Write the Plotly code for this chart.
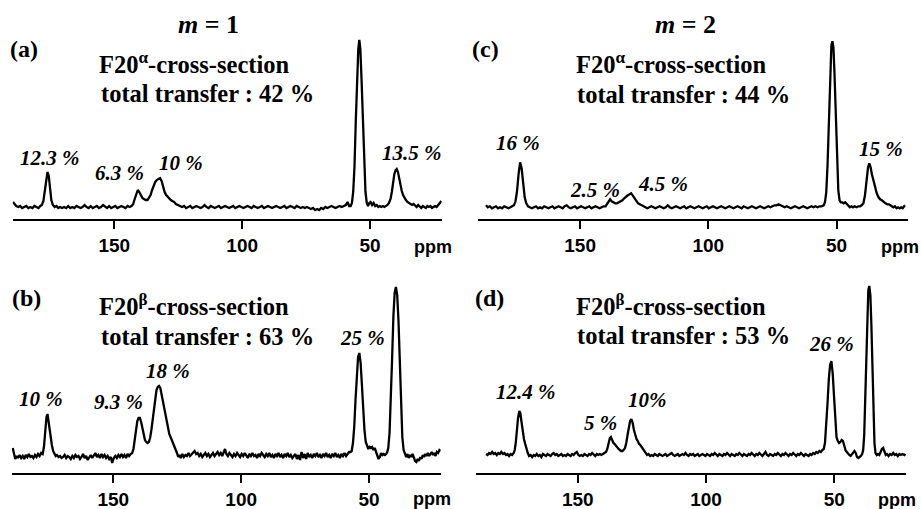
import plotly.graph_objects as go

W, H = 921, 509

# ---------------- data: (ppm, intensity) ----------------
SPEC_A = [
    (189.6, 5), (189.0, 3), (188.3, 1), (187.5, 0), (186.8, 1), (186.0, -1), (185.2, 0), (184.4, 1),
    (183.6, -1), (182.8, 0), (182.0, -1), (181.2, 1), (180.4, 0), (179.6, -1), (178.9, 1), (178.3, 2),
    (177.7, 6), (177.1, 16), (176.6, 29), (176.1, 35), (175.6, 31), (175.1, 18), (174.6, 7), (174.0, 2),
    (173.3, 0), (172.6, 1), (171.9, -1), (171.2, 0), (170.4, -1), (169.6, 0), (168.8, -1), (168.0, 1),
    (167.2, -1), (166.4, 0), (165.6, -1), (164.8, 1), (164.0, 0), (163.2, -1), (162.4, 0), (161.6, 2),
    (160.8, 0), (160.0, -1), (159.2, 1), (158.4, -1), (157.6, 0), (156.8, 1), (156.0, -1), (155.2, 0),
    (154.4, 2), (153.6, 0), (152.8, -1), (152.0, 1), (151.2, -1), (150.4, 0), (149.6, 1), (148.8, -1),
    (148.0, 0), (147.2, 1), (146.4, 0), (145.6, -1), (144.8, 1), (144.0, 0), (143.2, 1), (142.6, 3),
    (142.0, 8), (141.4, 13), (140.8, 17), (140.2, 15), (139.6, 11), (139.0, 9), (138.4, 8), (137.7, 7),
    (137.0, 7), (136.4, 9), (135.8, 12), (135.2, 17), (134.6, 22), (134.0, 25), (133.4, 27), (132.7, 28),
    (132.1, 29), (131.5, 26), (130.9, 20), (130.3, 15), (129.7, 12), (129.1, 10), (128.5, 8), (127.9, 7),
    (127.3, 6), (126.6, 5), (125.9, 3), (125.1, 2), (124.3, 1), (123.5, 0), (122.7, 1), (121.9, -1),
    (121.1, 0), (120.3, 1), (119.5, -1), (118.7, 0), (117.9, 1), (117.1, 0), (116.3, -1), (115.5, 0),
    (114.7, 2), (113.9, 0), (113.1, -1), (112.3, 1), (111.5, 0), (110.7, -1), (109.9, 0), (109.1, 1),
    (108.3, -1), (107.5, 0), (106.7, 1), (105.9, 0), (105.1, -1), (104.3, 0), (103.5, 1), (102.7, -1),
    (101.9, 0), (101.1, 1), (100.3, 0), (99.5, -1), (98.7, 0), (97.9, 1), (97.1, 0), (96.3, -1),
    (95.5, 1), (94.7, 0), (93.9, -1), (93.1, 0), (92.3, 1), (91.5, -1), (90.7, 0), (89.9, 1),
    (89.1, 0), (88.3, -1), (87.5, 0), (86.7, 1), (85.9, 0), (85.1, -1), (84.3, 0), (83.5, 1),
    (82.7, -1), (81.9, 0), (81.1, 1), (80.3, 0), (79.5, -1), (78.7, 1), (77.9, 0), (77.1, -1),
    (76.3, 0), (75.5, -1), (74.7, 0), (73.9, -1), (73.1, -2), (72.3, -1), (71.5, -3), (70.7, -2),
    (69.9, -3), (69.1, -1), (68.3, -2), (67.5, 0), (66.7, -1), (65.9, 0), (65.1, 1), (64.3, 0),
    (63.5, -1), (62.7, 0), (61.9, 1), (61.1, 0), (60.3, 1), (59.5, 2), (58.8, 5), (58.2, 1),
    (57.6, 1), (57.1, 4), (56.6, 15), (56.1, 40), (55.6, 85), (55.1, 130), (54.6, 158), (54.2, 167),
    (53.8, 158), (53.3, 125), (52.8, 80), (52.3, 40), (51.8, 15), (51.3, 4), (50.8, 1), (50.3, 4),
    (49.8, 5), (49.2, 2), (48.6, 4), (48.0, 1), (47.4, 2), (46.8, 0), (46.2, 1), (45.6, 0),
    (45.0, 1), (44.4, 0), (43.8, 1), (43.2, 2), (42.6, 4), (42.0, 8), (41.5, 15), (41.0, 25),
    (40.5, 33), (40.0, 37), (39.6, 38), (39.1, 35), (38.6, 28), (38.1, 21), (37.6, 16), (37.1, 12),
    (36.6, 9), (36.0, 7), (35.4, 5), (34.8, 4), (34.2, 3), (33.6, 2), (33.0, 3), (32.4, 1),
    (31.8, 0), (31.2, 2), (30.6, 0), (30.0, -1), (29.4, 1), (28.8, 0), (28.2, -1), (27.6, 1),
    (27.0, 0), (26.4, 1), (25.8, -1), (25.2, 0), (24.6, 1), (24.0, 0), (23.4, 2), (22.8, 3), (22.1, 6),
]

SPEC_C = [
    (186.7, 2), (186.0, 0), (185.2, 1), (184.4, -1), (183.6, 0), (182.8, 1), (182.0, -1), (181.2, 0),
    (180.4, -1), (179.6, 1), (178.8, 0), (178.0, -1), (177.2, 0), (176.4, 1), (175.8, 2), (175.2, 6),
    (174.6, 16), (174.0, 33), (173.4, 45), (172.8, 39), (172.2, 23), (171.6, 10), (171.0, 4), (170.3, 1),
    (169.6, 0), (168.8, -1), (168.0, 0), (167.2, 1), (166.4, -1), (165.6, 0), (164.8, -1), (164.0, 1),
    (163.2, 0), (162.4, -1), (161.6, 0), (160.8, 1), (160.0, -1), (159.2, 0), (158.4, 1), (157.6, 0),
    (156.8, -1), (156.0, 1), (155.2, 2), (154.4, 0), (153.6, -1), (152.8, 0), (152.0, 1), (151.2, -1),
    (150.4, 0), (149.6, 1), (148.8, 0), (148.0, -1), (147.2, 0), (146.4, 1), (145.6, -1), (144.8, 0),
    (144.0, 1), (143.2, 0), (142.4, -1), (141.6, 0), (140.8, 1), (140.1, 1), (139.5, 3), (138.9, 6),
    (138.3, 8), (137.7, 6), (137.0, 5), (136.3, 4), (135.6, 4), (134.9, 5), (134.2, 6), (133.5, 7),
    (132.8, 9), (132.1, 11), (131.4, 12), (130.7, 13), (130.1, 14), (129.5, 12), (128.8, 9), (128.1, 6),
    (127.4, 4), (126.7, 3), (126.0, 2), (125.3, 1), (124.6, 0), (123.8, -1), (123.0, 0), (122.2, 1),
    (121.4, 0), (120.6, -1), (119.8, 0), (119.0, 1), (118.2, 0), (117.4, -1), (116.6, 0), (115.8, 2),
    (115.0, 0), (114.2, -1), (113.4, 0), (112.6, 1), (111.8, 0), (111.0, -1), (110.2, 0), (109.4, 1),
    (108.6, -1), (107.8, 0), (107.0, 1), (106.2, 0), (105.4, -1), (104.6, 0), (103.8, 1), (103.0, 0),
    (102.2, -1), (101.4, 0), (100.6, 1), (99.8, -1), (99.0, 0), (98.2, 1), (97.4, 0), (96.6, -1),
    (95.8, 0), (95.0, 1), (94.2, 0), (93.4, -1), (92.6, 0), (91.8, 1), (91.0, 0), (90.2, -1),
    (89.4, 0), (88.6, 1), (87.8, 0), (87.0, -1), (86.2, 1), (85.4, 0), (84.6, -1), (83.8, 0),
    (83.0, 1), (82.2, 0), (81.4, -1), (80.6, 0), (79.8, 1), (79.0, 0), (78.2, -1), (77.4, 0),
    (76.6, 1), (75.8, 0), (75.0, 1), (74.2, 2), (73.4, 2), (72.6, 3), (71.8, 2), (71.0, 1),
    (70.2, 0), (69.4, 1), (68.6, 0), (67.8, -1), (67.0, 0), (66.2, 1), (65.4, 0), (64.6, -1),
    (63.8, 0), (63.0, 1), (62.2, 0), (61.4, -1), (60.6, 0), (59.8, 1), (59.0, 0), (58.2, 1),
    (57.4, 0), (56.6, 1), (55.8, 1), (55.0, 2), (54.5, 5), (54.0, 15), (53.5, 42), (53.0, 90),
    (52.5, 138), (52.0, 162), (51.6, 166), (51.2, 160), (50.8, 135), (50.3, 90), (49.8, 45), (49.3, 17),
    (48.8, 7), (48.3, 5), (47.8, 5), (47.2, 4), (46.6, 5), (46.0, 3), (45.4, 1), (44.8, 0),
    (44.2, 1), (43.6, 0), (42.9, 1), (42.2, 0), (41.5, 1), (40.8, 1), (40.2, 2), (39.5, 4),
    (38.9, 12), (38.3, 28), (37.7, 40), (37.2, 44), (36.7, 40), (36.2, 33), (35.6, 27), (35.0, 20),
    (34.3, 14), (33.6, 10), (33.0, 8), (32.3, 7), (31.6, 5), (30.9, 4), (30.2, 3), (29.6, 3),
    (29.0, 2), (28.4, 1), (27.8, 0), (27.2, 1), (26.6, -1), (26.0, 0), (25.4, -1), (24.8, 0),
    (24.2, -1), (23.6, 1), (23.3, 2),
]

SPEC_B = [
    (189.3, 7), (188.8, 1), (188.3, -4), (187.7, -1), (187.2, -3), (186.6, 0), (186.0, -3), (185.4, -1),
    (184.8, -4), (184.2, 0), (183.6, -2), (183.0, 1), (182.4, -2), (181.8, -1), (181.2, -3), (180.6, 0),
    (180.0, -2), (179.4, 1), (178.8, -1), (178.2, 2), (177.6, 1), (177.1, 8), (176.6, 25), (176.1, 38),
    (175.7, 41), (175.3, 33), (174.9, 24), (174.5, 18), (174.0, 10), (173.5, 4), (173.0, 1), (172.5, -1),
    (172.0, 0), (171.4, -2), (170.8, -1), (170.2, -3), (169.6, -2), (169.0, 0), (168.4, -3), (167.8, -1),
    (167.2, -2), (166.6, -4), (166.0, -1), (165.4, -3), (164.8, 0), (164.2, -2), (163.6, -1), (163.0, -4),
    (162.4, -2), (161.8, 1), (161.2, -3), (160.6, -1), (160.0, -5), (159.4, -2), (158.8, 0), (158.2, -3),
    (157.6, -1), (157.0, 2), (156.4, -2), (155.8, 0), (155.2, -3), (154.6, 1), (154.0, -2), (153.4, 0),
    (152.8, -3), (152.2, -1), (151.6, -4), (151.0, -2), (150.4, -8), (149.8, -3), (149.2, -1), (148.6, -3),
    (148.0, 0), (147.4, -2), (146.8, 1), (146.2, -2), (145.6, 0), (145.0, -3), (144.4, 1), (143.8, -1),
    (143.2, 1), (142.6, 2), (142.1, 6), (141.6, 15), (141.1, 27), (140.6, 34), (140.1, 37), (139.6, 37),
    (139.1, 33), (138.6, 26), (138.1, 19), (137.6, 15), (137.1, 13), (136.6, 12), (136.1, 13), (135.6, 17),
    (135.1, 25), (134.6, 36), (134.1, 48), (133.6, 58), (133.1, 65), (132.6, 68), (132.1, 69), (131.6, 67),
    (131.1, 60), (130.6, 52), (130.1, 45), (129.6, 40), (129.1, 33), (128.6, 26), (128.1, 21), (127.6, 18),
    (127.1, 15), (126.6, 12), (126.1, 9), (125.6, 5), (125.1, 2), (124.6, -2), (124.1, 0), (123.6, -3),
    (123.0, 1), (122.4, -2), (121.8, 0), (121.2, -1), (120.6, 2), (120.0, -1), (119.4, 1), (118.8, 3),
    (118.2, 4), (117.6, 1), (117.0, 2), (116.4, -1), (115.8, 1), (115.2, -2), (114.6, 0), (114.0, 2),
    (113.4, -1), (112.8, 1), (112.2, -2), (111.6, 0), (111.0, 2), (110.4, -1), (109.8, 1), (109.2, 3),
    (108.6, 0), (108.0, 2), (107.4, -1), (106.8, 2), (106.3, 6), (105.8, 1), (105.2, -1), (104.6, 2),
    (104.0, 0), (103.4, -2), (102.8, 1), (102.2, -1), (101.6, 2), (101.0, 0), (100.4, -2), (99.8, 1),
    (99.2, -1), (98.6, 2), (98.0, 0), (97.4, -3), (96.8, 1), (96.2, -1), (95.6, 2), (95.0, -1),
    (94.4, 0), (93.8, -3), (93.2, 1), (92.6, -1), (92.0, 2), (91.4, 0), (90.8, -2), (90.2, 1),
    (89.6, -1), (89.0, 2), (88.4, -2), (87.8, 0), (87.2, -3), (86.6, 1), (86.0, -1), (85.4, 2),
    (84.8, -2), (84.2, 0), (83.6, -3), (83.0, 1), (82.4, -1), (81.8, 2), (81.2, -2), (80.6, 0),
    (80.0, -3), (79.4, -1), (78.8, 1), (78.2, -4), (77.6, 0), (77.0, -5), (76.4, 3), (75.8, -3),
    (75.2, 1), (74.6, -4), (74.0, 2), (73.4, -2), (72.8, 0), (72.2, -3), (71.6, 1), (71.0, -1),
    (70.4, 2), (69.8, -2), (69.2, 0), (68.6, -3), (68.0, 1), (67.4, -1), (66.8, 2), (66.2, -2),
    (65.6, 0), (65.0, -3), (64.4, 1), (63.8, -1), (63.2, 2), (62.6, -2), (62.0, 0), (61.4, -3),
    (60.8, 1), (60.2, -1), (59.6, 2), (59.0, -1), (58.4, 1), (57.8, 3), (57.3, 3), (56.8, 4),
    (56.3, 12), (55.8, 28), (55.3, 55), (54.8, 82), (54.3, 98), (53.8, 102), (53.3, 92), (52.8, 70),
    (52.3, 45), (51.8, 25), (51.3, 13), (50.8, 8), (50.3, 6), (49.8, 8), (49.3, 7), (48.8, 8),
    (48.3, 5), (47.8, 7), (47.3, 3), (46.8, -1), (46.3, -4), (45.8, -2), (45.3, 2), (44.8, 0),
    (44.3, 1), (43.8, 0), (43.3, 1), (42.9, 3), (42.5, 7), (42.0, 22), (41.5, 52), (41.0, 96),
    (40.5, 138), (40.0, 162), (39.5, 168), (39.0, 160), (38.5, 134), (38.0, 94), (37.5, 50), (37.0, 18),
    (36.5, 5), (36.0, 0), (35.5, -2), (35.0, 1), (34.5, -3), (34.0, 0), (33.5, -2), (33.0, 1),
    (32.5, -4), (32.0, -6), (31.5, -7), (31.0, -4), (30.5, -6), (30.0, -2), (29.5, -4), (29.0, 0),
    (28.5, -2), (28.0, 1), (27.5, -1), (27.0, 2), (26.5, -1), (26.0, 1), (25.5, 3), (25.0, 0),
    (24.5, 2), (24.0, -1), (23.5, 3), (23.0, 2), (22.5, 5), (22.0, 4),
]

SPEC_D = [
    (185.8, 1), (185.2, 0), (184.6, 2), (184.0, 1), (183.4, 3), (182.8, 1), (182.2, 2), (181.6, 0),
    (181.0, 2), (180.4, 1), (179.8, 3), (179.2, 1), (178.6, 2), (178.0, 0), (177.4, 1), (176.8, -1),
    (176.2, 1), (175.6, 0), (175.0, 2), (174.6, 5), (174.2, 12), (173.8, 24), (173.3, 37), (172.8, 44),
    (172.4, 42), (172.0, 34), (171.5, 24), (171.0, 16), (170.5, 11), (170.0, 6), (169.5, 2), (169.0, -1),
    (168.4, 0), (167.8, -2), (167.2, 0), (166.6, -1), (166.0, 1), (165.4, -1), (164.8, 0), (164.2, -2),
    (163.6, 1), (163.0, 0), (162.4, -1), (161.8, 1), (161.2, 0), (160.6, -1), (160.0, 1), (159.4, 2),
    (158.8, 0), (158.2, 1), (157.6, -1), (157.0, 0), (156.4, 1), (155.8, -1), (155.2, 0), (154.6, -1),
    (154.0, 1), (153.4, 0), (152.8, -1), (152.2, 1), (151.6, 0), (151.0, 2), (150.4, 3), (149.8, 0),
    (149.2, -1), (148.6, 0), (148.0, -1), (147.4, 1), (146.8, 0), (146.2, -1), (145.6, 1), (145.0, 0),
    (144.4, 2), (143.8, 0), (143.2, -1), (142.6, 1), (142.0, 0), (141.4, 1), (140.8, 0), (140.2, 1),
    (139.6, 2), (139.0, 3), (138.5, 6), (138.0, 12), (137.5, 17), (137.1, 18), (136.6, 15), (136.1, 12),
    (135.6, 11), (135.1, 9), (134.6, 7), (134.1, 6), (133.6, 5), (133.1, 4), (132.6, 4), (132.1, 5),
    (131.6, 7), (131.1, 12), (130.6, 20), (130.1, 28), (129.6, 34), (129.1, 36), (128.6, 32), (128.1, 25),
    (127.6, 19), (127.1, 16), (126.6, 14), (126.1, 11), (125.6, 10), (125.1, 8), (124.6, 6), (124.1, 4),
    (123.6, 2), (123.0, 0), (122.4, 1), (121.8, -1), (121.2, 0), (120.6, -1), (120.0, 1), (119.4, 0),
    (118.8, -1), (118.2, 1), (117.6, 0), (117.0, -1), (116.4, 0), (115.8, 1), (115.2, -1), (114.6, 0),
    (114.0, 1), (113.4, 2), (112.8, 0), (112.2, -1), (111.6, 0), (111.0, 1), (110.4, -1), (109.8, 0),
    (109.2, 1), (108.6, 0), (108.0, 2), (107.4, 0), (106.8, -1), (106.2, 1), (105.6, 0), (105.0, 1),
    (104.4, -1), (103.8, 0), (103.2, 1), (102.6, -1), (102.0, 0), (101.4, 1), (100.8, 0), (100.2, -1),
    (99.6, 1), (99.0, 0), (98.4, -1), (97.8, 1), (97.2, 0), (96.6, 2), (96.0, 0), (95.4, -1),
    (94.8, 1), (94.2, 0), (93.6, -1), (93.0, 1), (92.4, 0), (91.8, 2), (91.2, 0), (90.6, -1),
    (90.0, 1), (89.4, 0), (88.8, -1), (88.2, 1), (87.6, 0), (87.0, 2), (86.4, 0), (85.8, -1),
    (85.2, 1), (84.6, 0), (84.0, -1), (83.4, 1), (82.8, 0), (82.2, 2), (81.6, 0), (81.0, -1),
    (80.4, 1), (79.8, 0), (79.2, 2), (78.6, 0), (78.0, -1), (77.4, 1), (76.8, 3), (76.2, 0),
    (75.6, -1), (75.0, 1), (74.4, 0), (73.8, -1), (73.2, 1), (72.6, 0), (72.0, 2), (71.4, 0),
    (70.8, -1), (70.2, 1), (69.6, 0), (69.0, 2), (68.4, 0), (67.8, -1), (67.2, 1), (66.6, 0),
    (66.0, 2), (65.4, 0), (64.8, -1), (64.2, 1), (63.6, 0), (63.0, 2), (62.4, 0), (61.8, -1),
    (61.2, 1), (60.6, 0), (60.0, -1), (59.4, 1), (58.8, 0), (58.2, 2), (57.6, 1), (57.0, 3),
    (56.4, 2), (55.8, 4), (55.2, 3), (54.6, 5), (54.1, 6), (53.6, 12), (53.1, 28), (52.6, 52),
    (52.1, 76), (51.6, 90), (51.1, 94), (50.6, 82), (50.1, 60), (49.6, 35), (49.1, 18), (48.6, 14),
    (48.1, 12), (47.6, 13), (47.1, 15), (46.6, 14), (46.1, 9), (45.6, 5), (45.1, 3), (44.6, 1),
    (44.1, 0), (43.6, -1), (43.1, 1), (42.6, 3), (42.1, 4), (41.6, 2), (41.1, -2), (40.6, -3),
    (40.1, -2), (39.6, -1), (39.1, 1), (38.7, 5), (38.3, 20), (37.9, 55), (37.5, 100), (37.1, 145),
    (36.7, 165), (36.3, 169), (35.9, 160), (35.5, 130), (35.1, 85), (34.7, 40), (34.3, 12), (33.9, 2),
    (33.4, 0), (32.9, 1), (32.4, 0), (31.9, 3), (31.4, 6), (30.9, 7), (30.4, 3), (29.9, 0),
    (29.4, 1), (28.8, -1), (28.2, 1), (27.6, 0), (27.0, 2), (26.4, 0), (25.8, 1), (25.2, -1),
    (24.6, 1), (24.0, 0), (23.4, 1), (22.6, 0), (22.2, 1),
]

TICK_VALS = [150, 100, 50]
TICK_TEXT = ["150", "100", "50"]
X_LIMITS = [189.7, 22.0]

HEADERS = ["<i>m</i> = 1", "<i>m</i> = 2"]
PANEL_LETTERS = ["(a)", "(c)", "(b)", "(d)"]
SECTION_TITLES = ["F20<sup>α</sup>-cross-section", "F20<sup>α</sup>-cross-section",
                  "F20<sup>β</sup>-cross-section", "F20<sup>β</sup>-cross-section"]
TRANSFER_TEXT = ["total transfer : 42 %", "total transfer : 44 %",
                 "total transfer : 63 %", "total transfer : 53 %"]
PEAK_LABELS = [
    ["12.3 %", "6.3 %", "10 %", "13.5 %"],
    ["16 %", "2.5 %", "4.5 %", "15 %"],
    ["10 %", "9.3 %", "18 %", "25 %"],
    ["12.4 %", "5 %", "10%", "26 %"],
]
SPECTRA = [SPEC_A, SPEC_C, SPEC_B, SPEC_D]

# ---------------- layout (pixel geometry) ----------------
GEOM = [
    dict(x0=12.7, x1=441.7, axis=219.3, top=30, base=207.0),
    dict(x0=478.3, x1=908.3, axis=219.3, top=30, base=207.3),
    dict(x0=11.7, x1=440.7, axis=473.3, top=285, base=455.0),
    dict(x0=476.0, x1=906.0, axis=473.3, top=285, base=455.0),
]
HEADER_POS = [(208, 25), (685, 25)]
LETTER_POS = [(24, 49), (485, 49), (26, 298), (489, 298)]
SECTION_POS = [(97, 63), (574, 63), (97, 305), (574, 305)]
TRANSFER_POS = [(99, 94), (575, 95), (99, 336), (575, 335)]
PEAK_POS = [
    [(50, 158), (119, 173), (181, 163), (412, 153)],
    [(518, 143), (595, 190), (663, 184), (881, 149)],
    [(41, 399), (118, 402), (168, 371), (362, 338)],
    [(526, 392), (600, 423), (647, 400), (831, 344)],
]
PPM_POS = [(433, 247), (900, 247), (432, 499), (897, 500)]

SERIF = "Liberation Serif"
SANS = "Liberation Sans"


def px(x, y):
    return x / W, 1 - y / H


fig = go.Figure()
layout = dict(
    width=W, height=H, margin=dict(l=0, r=0, t=0, b=0),
    paper_bgcolor="white", plot_bgcolor="white", showlegend=False,
)
annotations = []


def add_text(text, pos, size, anchor="center", italic=False, family=SERIF):
    x, y = px(*pos)
    if italic:
        text = "<i>" + text + "</i>"
    annotations.append(dict(
        text="<b>" + text + "</b>", x=x, y=y, xref="paper", yref="paper", showarrow=False,
        xanchor=anchor, yanchor="middle",
        font=dict(family=family, size=size, color="black"),
    ))


for i, (spec, g) in enumerate(zip(SPECTRA, GEOM)):
    n = "" if i == 0 else str(i + 1)
    xs = [p[0] for p in spec]
    ys = [p[1] for p in spec]
    fig.add_trace(go.Scatter(
        x=xs, y=ys, mode="lines", xaxis="x" + n, yaxis="y" + n,
        line=dict(color="black", width=2.3), hoverinfo="skip",
    ))
    ybot = -(g["axis"] - g["base"])
    ytop = g["base"] - g["top"]
    layout["xaxis" + n] = dict(
        domain=[g["x0"] / W, g["x1"] / W], range=X_LIMITS, anchor="y" + n,
        showline=True, linewidth=2, linecolor="black", showgrid=False, zeroline=False,
        ticks="outside", ticklen=8, tickwidth=2, tickcolor="black",
        tickvals=TICK_VALS, ticktext=["<b>" + t + "</b>" for t in TICK_TEXT],
        tickfont=dict(family=SANS, size=19, color="black"),
    )
    layout["yaxis" + n] = dict(
        domain=[1 - g["axis"] / H, 1 - g["top"] / H], range=[ybot, ytop], anchor="x" + n,
        visible=False, showgrid=False, zeroline=False,
    )

    add_text(PANEL_LETTERS[i], LETTER_POS[i], 24)
    add_text(SECTION_TITLES[i], SECTION_POS[i], 24.5, anchor="left")
    add_text(TRANSFER_TEXT[i], TRANSFER_POS[i], 24.5, anchor="left")
    for lab, pos in zip(PEAK_LABELS[i], PEAK_POS[i]):
        add_text(lab, pos, 21, italic=True)
    add_text("ppm", PPM_POS[i], 18, family=SANS)

for h, pos in zip(HEADERS, HEADER_POS):
    add_text(h, pos, 26)

layout["annotations"] = annotations
fig.update_layout(**layout)
fig.write_html("out.html")
